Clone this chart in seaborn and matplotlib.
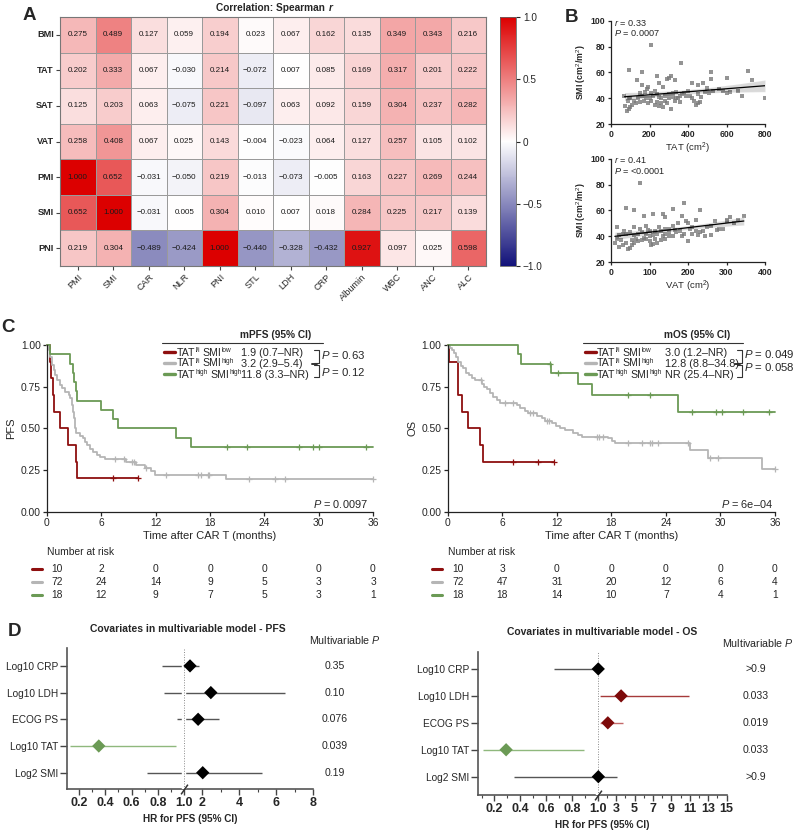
import numpy as np
import pandas as pd
import matplotlib
matplotlib.use("Agg")
import matplotlib.pyplot as plt
import matplotlib.transforms as mtransforms
from matplotlib.colors import LinearSegmentedColormap
from matplotlib.lines import Line2D
import seaborn as sns

# ---------------- Panel A data ----------------
heat_rows = ["BMI", "TAT", "SAT", "VAT", "PMI", "SMI", "PNI"]
heat_cols = ["PMI", "SMI", "CAR", "NLR", "PNI", "STL", "LDH", "CRP", "Albumin", "WBC", "ANC", "ALC"]
rho_BMI = [0.275, 0.489, 0.127, 0.059, 0.194, 0.023, 0.067, 0.162, 0.135, 0.349, 0.343, 0.216]
rho_TAT = [0.202, 0.333, 0.067, -0.030, 0.214, -0.072, 0.007, 0.085, 0.169, 0.317, 0.201, 0.222]
rho_SAT = [0.125, 0.203, 0.063, -0.075, 0.221, -0.097, 0.063, 0.092, 0.159, 0.304, 0.237, 0.282]
rho_VAT = [0.258, 0.408, 0.067, 0.025, 0.143, -0.004, -0.023, 0.064, 0.127, 0.257, 0.105, 0.102]
rho_PMI = [1.000, 0.652, -0.031, -0.050, 0.219, -0.013, -0.073, -0.005, 0.163, 0.227, 0.269, 0.244]
rho_SMI = [0.652, 1.000, -0.031, 0.005, 0.304, 0.010, 0.007, 0.018, 0.284, 0.225, 0.217, 0.139]
rho_PNI = [0.219, 0.304, -0.489, -0.424, 1.000, -0.440, -0.328, -0.432, 0.927, 0.097, 0.025, 0.598]
cbar_ticks = [-1.0, -0.5, 0.0, 0.5, 1.0]
cbar_labels = ["\u22121.0", "\u22120.5", "0", "0.5", "1.0"]

# ---------------- Panel B data ----------------
tat_area = [207, 95, 160, 365, 520, 710, 730, 800, 680, 600,
            520, 300, 240, 135, 290, 310, 330, 160, 185, 210,
            250, 270, 420, 450, 480, 500, 560, 580, 450, 400,
            380, 360, 340, 320, 300, 280, 260, 240, 220, 200,
            180, 160, 140, 120, 100, 90, 85, 95, 100, 110,
            130, 150, 170, 190, 210, 230, 250, 270, 290, 310,
            330, 350, 370, 390, 410, 430, 440, 450, 470, 490,
            510, 530, 600, 620, 660, 70, 75, 95, 150, 175,
            240, 260, 280, 300, 320, 340, 360, 420, 460, 250,
            230, 190]
tat_smi = [81, 62, 60, 67, 60, 61, 54, 40, 42, 56,
           55, 56, 57, 54, 55, 57, 54, 50, 47, 44,
           52, 49, 52, 50, 52, 48, 47, 46, 43, 46,
           44, 42, 45, 44, 43, 42, 40, 43, 42, 40,
           40, 42, 40, 38, 40, 38, 30, 32, 33, 35,
           36, 37, 38, 36, 38, 35, 34, 33, 36, 32,
           38, 40, 43, 42, 42, 38, 35, 36, 41, 45,
           44, 46, 44, 45, 46, 42, 34, 40, 44, 45,
           37, 36, 38, 40, 41, 40, 37, 40, 37, 41,
           46, 49]
vat_area = [75, 40, 60, 190, 160, 230, 135, 110, 85, 185,
            200, 140, 220, 270, 300, 310, 345, 250, 240, 260,
            280, 290, 210, 195, 175, 160, 150, 140, 125, 115,
            100, 90, 80, 70, 60, 50, 40, 30, 20, 15,
            10, 15, 20, 30, 40, 45, 50, 55, 60, 65,
            70, 80, 85, 90, 100, 105, 110, 120, 130, 140,
            150, 160, 170, 180, 190, 200, 210, 220, 230, 245,
            260, 275, 300, 320, 100, 110, 120, 130, 140, 95,
            75, 55, 35, 25, 165, 185, 205, 225, 115, 135,
            150, 90, 60, 330]
vat_smi = [81, 62, 60, 66, 61, 60, 57, 57, 56, 56,
           50, 55, 53, 52, 53, 55, 56, 47, 44, 48,
           46, 46, 47, 52, 50, 48, 46, 46, 47, 44,
           44, 42, 43, 42, 41, 43, 42, 42, 41, 38,
           35, 47, 32, 33, 35, 30, 31, 33, 35, 38,
           36, 37, 39, 38, 36, 33, 34, 35, 37, 38,
           40, 40, 43, 44, 42, 36, 42, 44, 43, 40,
           41, 45, 52, 50, 40, 41, 42, 44, 42, 45,
           46, 37, 44, 37, 45, 40, 46, 41, 38, 40,
           43, 48, 47, 53]

# ---------------- Panel C data ----------------
pfs_red_t = [0, 0.29, 0.48, 0.66, 0.73, 1.39, 2.30, 3.22, 3.36, 10.05]
pfs_red_s = [1.0, 0.9, 0.8, 0.7, 0.6, 0.5, 0.4, 0.3, 0.2, 0.2]
pfs_red_cens = [7.3, 10.05]
pfs_gray_t = [0, 0.18, 0.37, 0.55, 0.73, 0.91, 1.10, 1.39, 1.64, 2.01,
              2.38, 2.56, 2.74, 2.92, 3.00, 3.11, 3.22, 3.65, 3.95, 4.20,
              4.46, 4.75, 5.12, 5.48, 5.85, 6.40, 8.77, 9.87, 10.78, 11.51,
              11.88, 19.74, 36.0]
pfs_gray_s = [1.0, 0.97, 0.93, 0.88, 0.85, 0.82, 0.79, 0.76, 0.74, 0.72,
              0.70, 0.68, 0.64, 0.60, 0.56, 0.50, 0.47, 0.455, 0.44, 0.42,
              0.40, 0.375, 0.36, 0.34, 0.33, 0.315, 0.30, 0.28, 0.26, 0.245,
              0.22, 0.195, 0.195]
pfs_gray_cens = [7.49, 8.48, 9.43, 9.58, 10.96, 13.16, 16.63, 17.0, 17.73, 17.91, 22.3, 25.2, 26.24, 36.0]
pfs_green_t = [0, 0.37, 2.56, 2.85, 3.00, 3.22, 3.36, 5.92, 7.31, 7.86, 14.25, 15.90, 36.0]
pfs_green_s = [1.0, 0.944, 0.889, 0.833, 0.778, 0.722, 0.667, 0.611, 0.556, 0.5, 0.444, 0.389, 0.389]
pfs_green_cens = [19.92, 22.11, 27.78, 29.42, 30.04, 35.27]

os_red_t = [0, 0.18, 1.10, 1.54, 2.27, 3.56, 3.92, 11.73]
os_red_s = [1.0, 0.9, 0.7, 0.6, 0.5, 0.4, 0.3, 0.3]
os_red_cens = [7.22, 9.97, 11.73]
os_gray_t = [0, 0.26, 0.51, 0.73, 0.92, 1.17, 1.47, 1.72, 1.98, 2.35,
             2.71, 3.0, 3.81, 4.03, 4.29, 4.66, 5.02, 5.39, 5.76, 7.59,
             7.95, 8.50, 8.87, 9.79, 10.34, 10.70, 11.44, 11.88, 12.35, 12.90,
             13.82, 14.30, 14.74, 17.67, 18.04, 18.40, 26.65, 28.67, 34.53, 36.0]
os_gray_s = [1.0, 0.985, 0.97, 0.955, 0.93, 0.90, 0.875, 0.86, 0.83, 0.82,
             0.80, 0.79, 0.765, 0.75, 0.735, 0.71, 0.69, 0.67, 0.655, 0.64,
             0.625, 0.605, 0.59, 0.575, 0.56, 0.545, 0.53, 0.515, 0.50, 0.49,
             0.475, 0.46, 0.45, 0.44, 0.425, 0.41, 0.37, 0.32, 0.255, 0.255]
os_gray_cens = [3.67, 6.31, 7.22, 9.05, 9.42, 10.89, 11.14, 16.39, 16.64, 17.12,
                19.87, 21.33, 22.25, 22.51, 23.17, 26.39, 28.85, 29.77, 36.0]
os_green_t = [0, 7.77, 8.06, 11.36, 14.30, 15.91, 25.29, 36.0]
os_green_s = [1.0, 0.944, 0.889, 0.83, 0.766, 0.70, 0.60, 0.60]
os_green_cens = [11.25, 12.17, 19.87, 22.25, 26.83, 29.47, 30.13, 32.51, 35.34]

# group labels as (text, is_superscript) pieces
group_labels = [[("TAT", False), ("l/i", True), ("SMI", False), ("low", True)],
                [("TAT", False), ("l/i", True), ("SMI", False), ("high", True)],
                [("TAT", False), ("high", True), ("SMI", False), ("high", True)]]
pfs_medians = ["1.9 (0.7\u2013NR)", "3.2 (2.9\u20135.4)", "11.8 (3.3\u2013NR)"]
os_medians = ["3.0 (1.2\u2013NR)", "12.8 (8.8\u201334.8)", "NR (25.4\u2013NR)"]
risk_times = [0, 6, 12, 18, 24, 30, 36]
pfs_risk_red = [10, 2, 0, 0, 0, 0, 0]
pfs_risk_gray = [72, 24, 14, 9, 5, 3, 3]
pfs_risk_green = [18, 12, 9, 7, 5, 3, 1]
os_risk_red = [10, 3, 0, 0, 0, 0, 0]
os_risk_gray = [72, 47, 31, 20, 12, 6, 4]
os_risk_green = [18, 18, 14, 10, 7, 4, 1]

# ---------------- Panel D data ----------------
cov_labels = ["Log10 CRP", "Log10 LDH", "ECOG PS", "Log10 TAT", "Log2 SMI"]
pfs_hr = [1.33, 2.46, 1.77, 0.35, 2.02]
pfs_lo = [0.83, 0.85, 0.95, 0.13, 0.72]
pfs_hi = [1.82, 6.46, 2.91, 0.94, 5.23]
pfs_p = ["0.35", "0.10", "0.076", "0.039", "0.19"]
os_hr = [1.05, 3.53, 2.09, 0.29, 1.06]
os_lo = [0.66, 1.25, 1.25, 0.11, 0.35]
os_hi = [1.30, 10.9, 3.78, 0.89, 3.07]
os_p = [">0.9", "0.033", "0.019", "0.033", ">0.9"]
pfs_ticks = [0.2, 0.4, 0.6, 0.8, 1.0, 2, 4, 6, 8]
pfs_ticklabels = ["0.2", "0.4", "0.6", "0.8", "1.0", "2", "4", "6", "8"]
pfs_minor = [0.3, 0.5, 0.7, 0.9, 3, 5, 7]
os_ticks = [0.2, 0.4, 0.6, 0.8, 1.0, 3, 5, 7, 9, 11, 13, 15]
os_ticklabels = ["0.2", "0.4", "0.6", "0.8", "1.0", "3", "5", "7", "9", "11", "13", "15"]
os_minor = [0.1, 0.3, 0.5, 0.7, 0.9, 2, 4, 6, 8, 10, 12, 14]

# ---------------- style ----------------
sns.set_style("ticks")
plt.rcParams["font.family"] = ["Liberation Sans", "DejaVu Sans"]
plt.rcParams["mathtext.fontset"] = "custom"
plt.rcParams["mathtext.rm"] = "Liberation Sans"
plt.rcParams["mathtext.it"] = "Liberation Sans:italic"
plt.rcParams["mathtext.bf"] = "Liberation Sans:bold"
plt.rcParams["axes.edgecolor"] = "#222222"

RED = "#8e0f0f"
GRAY = "#b5b5b5"
GREEN = "#6b9a55"
DARKRED = "#7d0a0a"

W, H = 793, 833
fig = plt.figure(figsize=(W / 100, H / 100), dpi=100)
renderer = fig.canvas.get_renderer()


def add_ax(l, t, r, b):
    return fig.add_axes([l / W, 1 - b / H, (r - l) / W, (b - t) / H])


def ft(x, y, s, **kw):
    return fig.text(x / W, 1 - y / H, s, **kw)


def fl(xs, ys, **kw):
    fig.add_artist(Line2D([x / W for x in xs], [1 - y / H for y in ys],
                          transform=fig.transFigure, **kw))


def text_width(t):
    return t.get_window_extent(renderer).width


def sup_label(x, y, parts, fs):
    """Write text pieces with small raised superscripts; y is the row centre (px)."""
    em = fs * 100 / 72
    base = y + 0.36 * em
    cur = x
    for i, (txt, sup) in enumerate(parts):
        if not sup and i > 0:
            cur += 0.2 * em
        size = fs * 0.62 if sup else fs
        yy = base - (0.33 * em if sup else 0)
        t = ft(cur, yy, txt, fontsize=size, ha="left", va="baseline")
        cur += text_width(t) + (0.2 if sup else 0.4)
    return cur


# ================= Panel A: heatmap =================
corr = np.array([rho_BMI, rho_TAT, rho_SAT, rho_VAT, rho_PMI, rho_SMI, rho_PNI])
df = pd.DataFrame(corr, index=heat_rows, columns=heat_cols)
annot = np.array([[f"{v:.3f}".replace("-", "\u2212") for v in row] for row in corr])
cmap = LinearSegmentedColormap.from_list("bwr_gp", ["#12127a", "#ffffff", "#dc0000"])

axh = add_ax(60, 17, 486, 266)
cax = add_ax(500, 17, 516, 266)
sns.heatmap(df, ax=axh, cbar_ax=cax, cmap=cmap, vmin=-1, vmax=1, annot=annot, fmt="",
            annot_kws={"size": 5.8, "color": "#1a1a1a"}, linewidths=0.6, linecolor="#9a9a9a")
axh.set_yticklabels(heat_rows, rotation=0, fontsize=6.6, fontweight="bold")
axh.set_xticklabels(heat_cols, rotation=45, ha="right", rotation_mode="anchor", fontsize=6.6)
axh.tick_params(axis="both", length=3, width=0.8, color="#444444", pad=1.5)
axh.set_xlabel("")
axh.set_ylabel("")
for sp in axh.spines.values():
    sp.set_visible(True)
    sp.set_color("#777777")
    sp.set_linewidth(0.8)
cbar = axh.collections[0].colorbar
cbar.set_ticks(cbar_ticks)
cbar.set_ticklabels(cbar_labels)
cax.tick_params(labelsize=7.2, length=3, width=0.8, pad=2)
cbar.outline.set_linewidth(0.6)
cbar.outline.set_edgecolor("#666666")

t_title = ft(216, 8, "Correlation: Spearman ", fontsize=7.3, fontweight="bold", ha="left", va="center")
ft(216 + text_width(t_title) + 1, 8, "r", fontsize=7.3, fontweight="bold", style="italic",
   ha="left", va="center")
ft(29, 15, "A", fontsize=13.5, fontweight="bold", ha="center", va="center")

# ================= Panel B: scatter plots =================
ft(571, 17, "B", fontsize=13.5, fontweight="bold", ha="center", va="center")


def scatter_panel(ax, x, y, xmax, xticks, xlabel, rtxt, ptxt, ty):
    sns.regplot(x=x, y=y, ax=ax, marker="s", ci=95, n_boot=1000, seed=1, truncate=True,
                scatter_kws=dict(s=6, color="#7a7a7a", linewidths=0),
                line_kws=dict(color="black", lw=0.9))
    ax.set_xlim(0, xmax)
    ax.set_ylim(20, 100)
    ax.set_xticks(xticks)
    ax.set_yticks([20, 40, 60, 80, 100])
    ax.tick_params(labelsize=6.2, length=2.5, width=0.9, pad=1.5)
    for lab in ax.get_xticklabels() + ax.get_yticklabels():
        lab.set_fontweight("bold")
    sns.despine(ax=ax)
    for sp in ax.spines.values():
        sp.set_linewidth(0.9)
    ax.set_xlabel(xlabel, fontsize=6.8, labelpad=1.5)
    ax.set_ylabel("SMI (cm$^2$/m$^2$)", fontsize=6.3, fontweight="bold", labelpad=2)
    ft(614, ty, rtxt, fontsize=6.6, ha="left", va="center")
    ft(614, ty + 10.5, ptxt, fontsize=6.6, ha="left", va="center")


axs1 = add_ax(611, 21, 765, 124)
scatter_panel(axs1, tat_area, tat_smi, 800, [0, 200, 400, 600, 800], "TAT (cm$^2$)",
              "$r$ = 0.33", "$P$ = 0.0007", 22.5)
axs2 = add_ax(611, 159, 765, 262)
scatter_panel(axs2, vat_area, vat_smi, 400, [0, 100, 200, 300, 400], "VAT (cm$^2$)",
              "$r$ = 0.41", "$P$ = <0.0001", 160)

# ================= Panel C: Kaplan-Meier =================
ft(8, 328, "C", fontsize=13.5, fontweight="bold", ha="center", va="center")


def step_value(ts, ss, tq):
    idx = np.searchsorted(np.asarray(ts), np.asarray(tq), side="right") - 1
    return np.asarray(ss)[idx]


def km_panel(ax, groups, ylabel):
    for t, s, cens, color in groups:
        sns.lineplot(x=t, y=s, ax=ax, drawstyle="steps-post", estimator=None, sort=False,
                     color=color, lw=1.3, legend=False, clip_on=False)
        ax.plot(cens, step_value(t, s, cens), ls="none", marker="+", ms=4.5, mew=0.9,
                color=color, clip_on=False)
    ax.set_xlim(0, 36)
    ax.set_ylim(0, 1)
    ax.set_xticks(risk_times)
    ax.set_yticks([0, 0.25, 0.5, 0.75, 1.0])
    ax.set_yticklabels(["0.00", "0.25", "0.50", "0.75", "1.00"])
    ax.tick_params(labelsize=7.4, length=3, width=0.9, pad=1.5)
    sns.despine(ax=ax)
    for sp in ax.spines.values():
        sp.set_linewidth(0.9)
    ax.set_xlabel("Time after CAR T (months)", fontsize=8, labelpad=2)
    ax.set_ylabel(ylabel, fontsize=8, labelpad=3)


def risk_table(ax, rows, x_text, x_dash):
    blend = mtransforms.blended_transform_factory(ax.transData, fig.transFigure)
    first = mtransforms.offset_copy(blend, fig=fig, x=10, y=0, units="dots")
    ft(x_text, 551.7, "Number at risk", fontsize=7.4, ha="left", va="center")
    for (vals, color), y in zip(rows, [569.3, 582.3, 595.0]):
        fl([x_dash, x_dash + 10], [y, y], color=color, lw=2.2)
        for i, (tt, n) in enumerate(zip(risk_times, vals)):
            ax.text(tt, 1 - y / H, str(n), transform=first if i == 0 else blend,
                    ha="center", va="center", fontsize=7.4)


def km_legend(header, hx, line_x, medians, hx0, lx, vx, br_x, ptexts, pys):
    ft(hx, 335, header, fontsize=7.3, fontweight="bold", ha="center", va="center")
    fl(line_x, [343, 343], color="#333333", lw=0.8)
    for parts, med, color, y in zip(group_labels, medians, [RED, GRAY, GREEN], [351.7, 362.7, 374.0]):
        fl([hx0, hx0 + 11], [y, y], color=color, lw=2.4)
        sup_label(lx, y, parts, 7.6)
        ft(vx, y + 0.36 * 7.8 * 100 / 72, med, fontsize=7.8, ha="left", va="baseline")
    fl([br_x - 5, br_x, br_x, br_x - 5], [350.5, 350.5, 362.7, 362.7], color="#333333", lw=0.8)
    fl([br_x - 5, br_x, br_x, br_x - 5], [365.5, 365.5, 377.3, 377.3], color="#333333", lw=0.8)
    fl([br_x - 7, br_x - 2], [364.1, 364.1], color="#333333", lw=1.4)
    for ptxt, py in zip(ptexts, pys):
        ft(br_x + 2, py, ptxt, fontsize=8.2, ha="left", va="center")


axk1 = add_ax(47, 345, 373, 511.7)
km_panel(axk1, [(pfs_red_t, pfs_red_s, pfs_red_cens, RED),
                (pfs_gray_t, pfs_gray_s, pfs_gray_cens, GRAY),
                (pfs_green_t, pfs_green_s, pfs_green_cens, GREEN)], "PFS")
risk_table(axk1, [(pfs_risk_red, RED), (pfs_risk_gray, GRAY), (pfs_risk_green, GREEN)], 46.7, 32)
km_legend("mPFS (95% CI)", 276, [162, 323], pfs_medians, 164, 177, 241, 319.3,
          ["$P$ = 0.63", "$P$ = 0.12"], [355.0, 371.7])
ft(368, 504, "$P$ = 0.0097", fontsize=7.9, ha="right", va="center")

axk2 = add_ax(447.7, 345, 775, 511.7)
km_panel(axk2, [(os_red_t, os_red_s, os_red_cens, RED),
                (os_gray_t, os_gray_s, os_gray_cens, GRAY),
                (os_green_t, os_green_s, os_green_cens, GREEN)], "OS")
risk_table(axk2, [(os_risk_red, RED), (os_risk_gray, GRAY), (os_risk_green, GREEN)], 447.7, 432)
km_legend("mOS (95% CI)", 696.7, [583, 743], os_medians, 585, 597, 665, 741.7,
          ["$P$ = 0.049", "$P$ = 0.058"], [354.3, 366.7])
ft(773, 504, "$P$ = 6e\u201304", fontsize=7.9, ha="right", va="center")

# ================= Panel D: forest plots =================
ft(14, 631, "D", fontsize=13.5, fontweight="bold", ha="center", va="center")


def forest(ax, hr, lo, hi, mcolors, lcolors, pvals, k, xlim, ylim, ticks, ticklabels, minor,
           p_xfrac, title, title_xy, head_xy):
    fwd = lambda x: np.where(np.asarray(x) <= 1, x, 1 + (np.asarray(x) - 1) * k)
    inv = lambda y: np.where(np.asarray(y) <= 1, y, 1 + (np.asarray(y) - 1) / k)
    ax.set_xscale("function", functions=(fwd, inv))
    ypos = list(range(len(cov_labels)))
    ax.hlines(ypos, lo, hi, colors=lcolors, lw=1.0, zorder=2)
    ax.axvline(1.0, color="white", lw=3.2, zorder=3)
    ax.axvline(1.0, color="#8a8a8a", lw=0.7, ls=(0, (1, 1.6)), zorder=3.5)
    sns.scatterplot(x=hr, y=ypos, hue=cov_labels, palette=dict(zip(cov_labels, mcolors)),
                    marker="D", s=46, linewidth=0, legend=False, ax=ax, zorder=5)
    ax.set_xlim(*xlim)
    ax.set_ylim(*ylim)
    ax.set_yticks(ypos)
    ax.set_yticklabels(cov_labels, fontsize=7.3)
    ax.set_xticks(ticks)
    ax.set_xticklabels(ticklabels, fontsize=9, fontweight="bold")
    ax.set_xticks(minor, minor=True)
    ax.tick_params(axis="y", length=5, width=1.0, pad=1.0, color="#444444")
    ax.tick_params(axis="x", which="major", length=4, width=1.0, pad=2, color="#444444")
    ax.tick_params(axis="x", which="minor", length=2.5, width=0.8, color="#444444")
    sns.despine(ax=ax)
    for sp in ax.spines.values():
        sp.set_linewidth(1.2)
        sp.set_color("#555555")
    ax.set_xlabel("HR for PFS (95% CI)", fontsize=7.2, fontweight="bold", labelpad=3)
    ax.set_ylabel("")
    bt = mtransforms.blended_transform_factory(ax.transData, ax.transAxes)
    ax.plot([1.0], [0.0], transform=bt, marker=[(-0.7, -1.0), (0.7, 1.0)], ms=7, mew=1.1,
            color="#333333", clip_on=False, zorder=6)
    pt = mtransforms.blended_transform_factory(ax.transAxes, ax.transData)
    for y, p in zip(ypos, pvals):
        ax.text(p_xfrac, y, p, transform=pt, fontsize=7.6, ha="center", va="center")
    ft(title_xy[0], title_xy[1], title, fontsize=7.5, fontweight="bold", ha="center", va="center")
    ft(head_xy[0], head_xy[1], "Multivariable $P$", fontsize=7.7, ha="center", va="center")


axf1 = add_ax(66.7, 648, 313, 789)
forest(axf1, pfs_hr, pfs_lo, pfs_hi,
       ["black", "black", "black", GREEN, "black"],
       ["#555555", "#555555", "#555555", "#8fb87d", "#555555"],
       pfs_p, 0.1408, (0.105, 8), (4.61, -0.67), pfs_ticks, pfs_ticklabels, pfs_minor,
       1.089, "Covariates in multivariable model - PFS", (188, 629), (345, 639.5))

axf2 = add_ax(477.7, 651.7, 726.7, 795)
forest(axf2, os_hr, os_lo, os_hi,
       ["black", DARKRED, DARKRED, GREEN, "black"],
       ["#555555", "#a63a3a", "#c46a6a", "#8fb87d", "#555555"],
       os_p, 0.0713, (0.07, 15), (4.68, -0.64), os_ticks, os_ticklabels, os_minor,
       1.118, "Covariates in multivariable model - OS", (601.7, 631.7), (758, 643))

fig.savefig("out.png", dpi=100)
